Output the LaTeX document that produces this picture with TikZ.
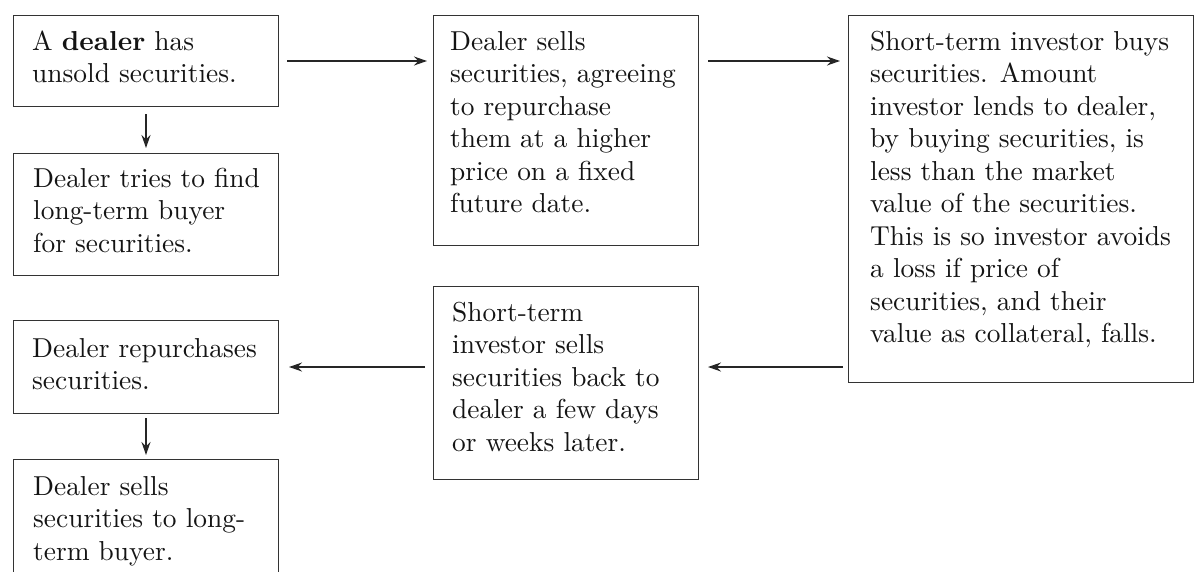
\documentclass[tikz,border=0pt]{standalone}
\usepackage{fontspec}
\setmainfont{lmroman10-regular.otf}[BoldFont=lmroman10-bold.otf]
\usetikzlibrary{arrows.meta}
\newcommand\boxtext[1]{\parbox[t]{340pt}{\fontsize{27.4}{32.5}\selectfont\raggedright #1}}
\begin{document}
\begin{tikzpicture}[x=1pt,y=-1pt,
 box/.style={draw=black!80, line width=1pt, inner sep=0pt, anchor=north west, minimum width=265pt},
 txt/.style={anchor=base west, inner sep=0pt, text=black!92},
 arr/.style={draw=black!85, line width=1.2pt, -{Stealth[length=13pt,width=9pt]}}]
\useasboundingbox (0,0) rectangle (1195,571);
\clip (0,0) rectangle (1195,571);
% boxes
\node[box, minimum height=91pt] (A) at (13,15) {};
\node[box, minimum height=122pt] (B) at (13,153) {};
\node[box, minimum height=230pt] (C) at (433,15) {};
\node[box, minimum width=345pt, minimum height=367pt] (D) at (848,15) {};
\node[box, minimum height=193pt] (E) at (433,286) {};
\node[box, minimum height=93pt] (F) at (13,320) {};
\node[box, minimum height=150pt] (G) at (13,459) {};
% texts
\node[txt] (At) at (32,50) {\boxtext{A \textbf{dealer} has\\unsold securities.}};
\node[txt] (Bt) at (33,187) {\boxtext{Dealer tries to find\\long-term buyer\\for securities.}};
\node[txt] (Ct) at (450,50) {\boxtext{Dealer sells\\securities, agreeing\\to repurchase\\them at a higher\\price on a fixed\\future date.}};
\node[txt] (Dt) at (870,50) {\boxtext{Short-term investor buys\\securities. Amount\\investor lends to dealer,\\by buying securities, is\\less than the market\\value of the securities.\\This is so investor avoids\\a loss if price of\\securities, and their\\value as collateral, falls.}};
\node[txt] (Et) at (452,321) {\boxtext{Short-term\\investor sells\\securities back to\\dealer a few days\\or weeks later.}};
\node[txt] (Ft) at (32,357) {\boxtext{Dealer repurchases\\securities.}};
\node[txt] (Gt) at (33,495) {\boxtext{Dealer sells\\securities to long-\\term buyer.}};
% arrows
\draw[arr, shorten <=8pt, shorten >=6pt] (A.east) -- (A.east -| C.west);
\draw[arr, shorten <=9pt, shorten >=8pt] (A.east -| C.east) -- (A.east -| D.west);
\draw[arr, shorten <=5pt, shorten >=9pt] (F.east -| D.west) -- (F.east -| E.east);
\draw[arr, shorten <=8pt, shorten >=10pt] (F.east -| E.west) -- (F.east);
\draw[arr, shorten <=7pt, shorten >=5pt] (A.south) -- (B.north);
\draw[arr, shorten <=4pt, shorten >=4pt] (F.south) -- (G.north);
\end{tikzpicture}
\end{document}
